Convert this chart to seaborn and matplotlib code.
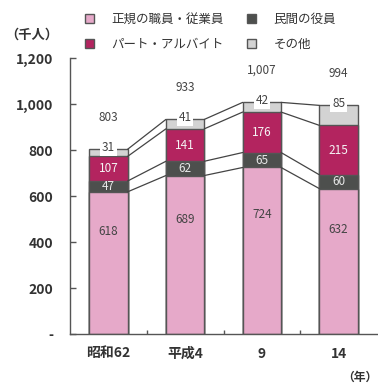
import matplotlib
matplotlib.use("Agg")
import matplotlib.pyplot as plt
import seaborn as sns
import pandas as pd
import numpy as np
from matplotlib.patches import Patch

categories = ["昭和62", "平成4", "9", "14"]
regular = [618, 689, 724, 632]
executives = [47, 62, 65, 60]
parttime = [107, 141, 176, 215]
other = [31, 41, 42, 85]
totals = [803, 933, 1007, 994]
series_names = ["正規の職員・従業員", "民間の役員", "パート・アルバイト", "その他"]
yticks = [0, 200, 400, 600, 800, 1000, 1200]
ytick_labels = ["-", "200", "400", "600", "800", "1,000", "1,200"]

colors = ["#e6a9c9", "#4d4f4d", "#b3245f", "#d3d3d3"]
edge = "#555555"

sns.set_theme(style="white")
plt.rcParams['font.family'] = ['Noto Sans CJK JP', 'DejaVu Sans']

c1 = np.array(regular)
c2 = c1 + np.array(executives)
c3 = c2 + np.array(parttime)
c4 = np.array(totals)
levels = [c1, c2, c3, c4]

df = pd.DataFrame({"cat": categories, "c1": c1, "c2": c2, "c3": c3, "c4": c4})

fig = plt.figure(figsize=(3.78, 3.83), dpi=100)
ax = fig.add_axes([70/378, 1-334/383, 307/378, 276/383])

for col, color in zip(["c4", "c3", "c2", "c1"], colors[::-1]):
    sns.barplot(data=df, x="cat", y=col, color=color, width=0.5, ax=ax,
                edgecolor=edge, linewidth=1.0, saturation=1)

# connector lines
hw = 0.25
for lev in levels:
    for i in range(len(categories) - 1):
        ax.plot([i + hw, i + 1 - hw], [lev[i], lev[i + 1]], color="#444444", lw=0.9, zorder=3)

# labels
fs = 8.5
for i in range(len(categories)):
    ax.text(i, regular[i] * 0.72, str(regular[i]), ha="center", va="center",
            fontsize=fs, color="#444444")
    ax.text(i, c1[i] + executives[i] / 2, str(executives[i]), ha="center", va="center",
            fontsize=fs, color="#e8e8e8")
    ax.text(i, c2[i] + parttime[i] / 2, str(parttime[i]), ha="center", va="center",
            fontsize=fs, color="#f5f5f5")
    ax.text(i, c4[i] + 8, str(other[i]), ha="center", va="center", fontsize=fs,
            color="#444444", zorder=5,
            bbox=dict(boxstyle="square,pad=0.15", fc="white", ec="none"))
    ax.text(i, c4[i] + 140, f"{totals[i]:,}", ha="center", va="center",
            fontsize=fs, color="#444444")

ax.set_xlim(-0.5, 3.5)
ax.set_ylim(0, 1200)
ax.set_yticks(yticks)
ax.set_yticklabels(ytick_labels)
ax.set_xlabel("")
ax.set_ylabel("")
ax.set_xticks([0.5, 1.5, 2.5], minor=True)
for s in ["top", "right"]:
    ax.spines[s].set_visible(False)
for s in ["left", "bottom"]:
    ax.spines[s].set_color("#555555")
    ax.spines[s].set_linewidth(1.0)
ax.tick_params(axis="y", direction="in", length=4, width=1, color="#555555",
               pad=12, labelsize=10, labelcolor="#333333", left=True)
ax.tick_params(axis="x", which="major", length=0, pad=9, labelsize=10, labelcolor="#333333")
ax.tick_params(axis="x", which="minor", direction="in", length=3, width=1, color="#555555", bottom=True)
for lab in ax.get_yticklabels() + ax.get_xticklabels():
    lab.set_fontweight("bold")

fig.text(5/378, 1-35/383, "（千人）", fontsize=9.5, fontweight="bold", color="#333333",
         ha="left", va="center")
fig.text(377/378, 1-377/383, "（年）", fontsize=8.5, fontweight="bold", color="#333333",
         ha="right", va="center")

handles = [Patch(fc=colors[0], ec=edge), Patch(fc=colors[2], ec=edge),
           Patch(fc=colors[1], ec=edge), Patch(fc=colors[3], ec=edge)]
labels = [series_names[0], series_names[2], series_names[1], series_names[3]]
fig.legend(handles, labels, ncol=2, loc="upper left", bbox_to_anchor=(76/378, 1.0 - 4/383),
           frameon=False, fontsize=9, handlelength=0.75, handleheight=0.75,
           columnspacing=1.8, handletextpad=1.4, labelspacing=0.95, labelcolor="#333333",
           borderpad=0.2)

fig.savefig("out.png", dpi=100)
